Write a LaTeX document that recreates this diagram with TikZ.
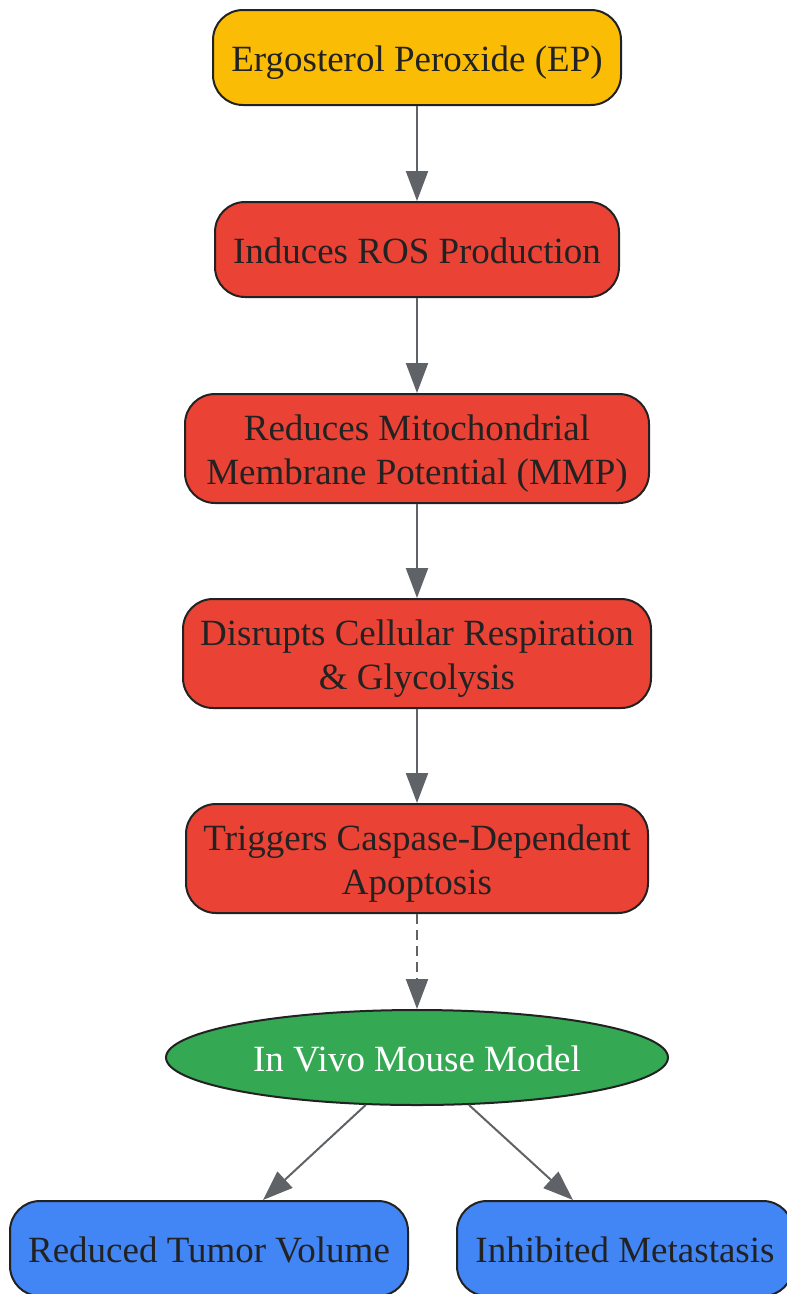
\documentclass[tikz,border=0pt]{standalone}
\usepackage{fontspec}
\setmainfont{Liberation Serif}
\usetikzlibrary{arrows.meta,shapes.geometric}
\definecolor{epyellow}{HTML}{FBBC05}
\definecolor{stepred}{HTML}{EA4335}
\definecolor{vivogreen}{HTML}{34A853}
\definecolor{outblue}{HTML}{4285F4}
\definecolor{edgegray}{HTML}{5F6368}
\definecolor{txtdark}{HTML}{222222}
\newcommand\lbl[1]{\raisebox{-5pt}[\height][\depth]{\begin{tabular}{@{}c@{}}#1\end{tabular}}}
\tikzset{
  box/.style={draw=txtdark, line width=2pt, rectangle, rounded corners=30pt,
    text=txtdark, inner sep=0pt,
    font=\fontsize{37}{44}\selectfont},
  conn/.style={draw=edgegray, line width=2.2pt,
    -{Triangle[length=30pt,width=22pt]}},
}
\begin{document}
\begin{tikzpicture}[x=1pt,y=-1pt]
\useasboundingbox (0,0) rectangle (787,1294);
\begin{scope}
\clip (0,0) rectangle (787,1294);
\node[box, fill=epyellow, minimum width=408pt, minimum height=95pt] (ep) at (417,57.5) {\lbl{Ergosterol Peroxide (EP)}};
\node[box, fill=stepred, minimum width=404pt, minimum height=95pt] (ros) at (417,249.5) {\lbl{Induces ROS Production}};
\node[box, fill=stepred, minimum width=464pt, minimum height=109pt] (mmp) at (417,448.5) {\lbl{Reduces Mitochondrial\\Membrane Potential (MMP)}};
\node[box, fill=stepred, minimum width=468pt, minimum height=109pt] (resp) at (417,653.5) {\lbl{Disrupts Cellular Respiration\\\& Glycolysis}};
\node[box, fill=stepred, minimum width=462pt, minimum height=109pt] (apop) at (417,858.5) {\lbl{Triggers Caspase-Dependent\\Apoptosis}};
\node[ellipse, draw=txtdark, line width=2pt, fill=vivogreen, text=white, inner sep=0pt,
  minimum width=502pt, minimum height=95pt, font=\fontsize{37}{44}\selectfont] (vivo) at (417,1057.5) {\lbl{In Vivo Mouse Model}};
\node[box, fill=outblue, minimum width=398pt, minimum height=95pt] (tumor) at (209,1248.5) {\lbl{Reduced Tumor Volume}};
\node[box, fill=outblue, minimum width=336pt, minimum height=95pt] (meta) at (625,1248.5) {\lbl{Inhibited Metastasis}};
\end{scope}
\draw[conn] (ep) -- (ros);
\draw[conn] (ros) -- (mmp);
\draw[conn] (mmp) -- (resp);
\draw[conn] (resp) -- (apop);
\draw[conn, dash pattern=on 10pt off 6pt] (apop) -- (vivo);
\coordinate (lt) at (263,1200);
\coordinate (rt) at (573,1200);
\draw[conn, line width=2pt] (vivo) -- (lt);
\draw[conn, line width=2pt] (vivo) -- (rt);
\end{tikzpicture}
\end{document}
